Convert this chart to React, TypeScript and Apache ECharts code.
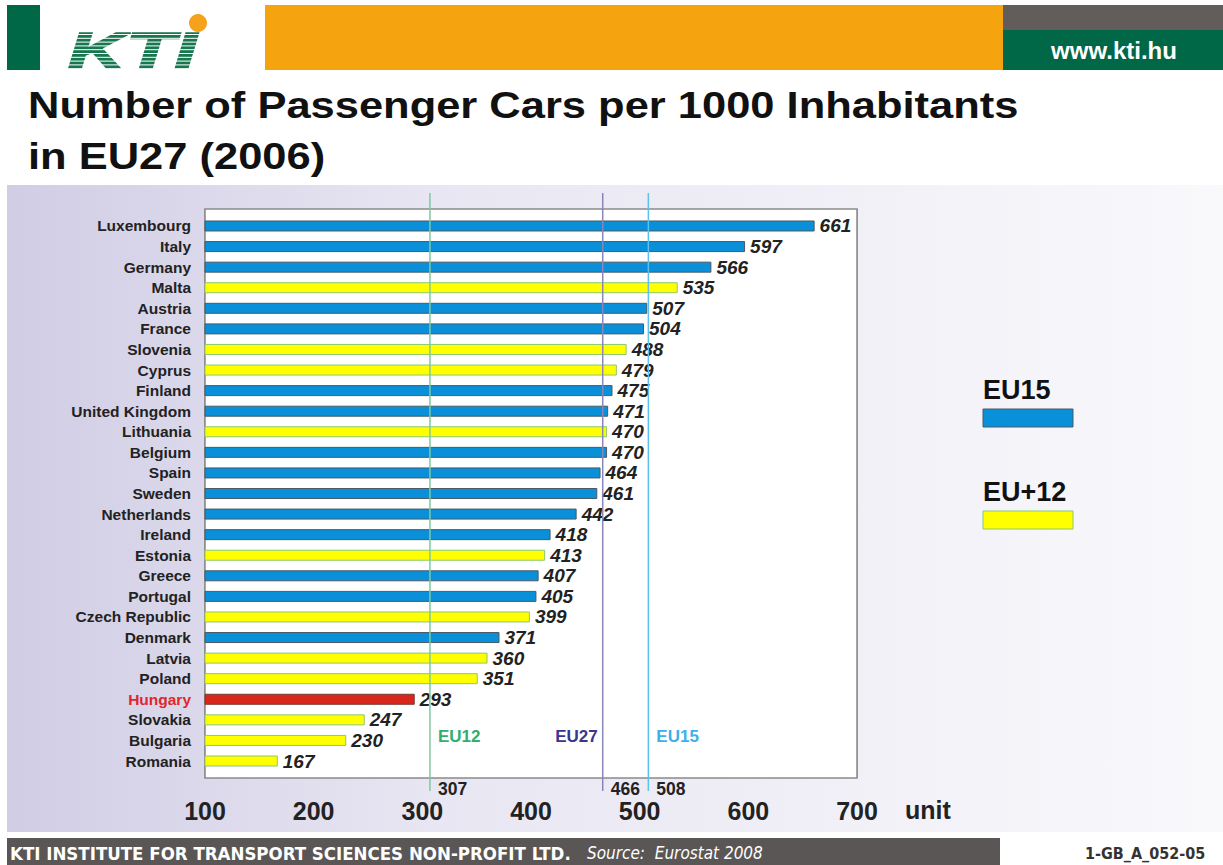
import React, { useEffect, useRef } from "react";
import * as echarts from "echarts";

const categories = [
  "Luxembourg", "Italy", "Germany", "Malta", "Austria", "France", "Slovenia", "Cyprus", "Finland",
  "United Kingdom", "Lithuania", "Belgium", "Spain", "Sweden", "Netherlands", "Ireland", "Estonia",
  "Greece", "Portugal", "Czech Republic", "Denmark", "Latvia", "Poland", "Hungary", "Slovakia",
  "Bulgaria", "Romania",
];
const values = [
  661, 597, 566, 535, 507, 504, 488, 479, 475, 471, 470, 470, 464, 461, 442, 418, 413, 407, 405, 399,
  371, 360, 351, 293, 247, 230, 167,
];
const groups = [
  "EU15", "EU15", "EU15", "EU+12", "EU15", "EU15", "EU+12", "EU+12", "EU15", "EU15", "EU+12", "EU15",
  "EU15", "EU15", "EU15", "EU15", "EU+12", "EU15", "EU15", "EU+12", "EU15", "EU+12", "EU+12", "HU",
  "EU+12", "EU+12", "EU+12",
];
const refNames = ["EU12", "EU27", "EU15"];
const refValues = [307, 466, 508];
const refColors = ["#2fae6e", "#3a3590", "#3cb0ea"];
const refLineColors = ["#7ccaa0", "#8a86b8", "#5cc0f0"];
const xMin = 100;
const xMax = 700;
const xStep = 100;
const legendNames = ["EU15", "EU+12"];

const FONT = "'Liberation Sans', Arial, Helvetica, sans-serif";
const COND = "'DejaVu Sans Condensed', 'DejaVu Sans', sans-serif";

const groupStyle: Record<string, any> = {
  EU15: { color: "#0a8fd9", borderColor: "#4a5a66", borderWidth: 1 },
  "EU+12": { color: "#ffff00", borderColor: "#8cc870", borderWidth: 1 },
  HU: { color: "#d9261c", borderColor: "#7a3a30", borderWidth: 1 },
};

export default function App() {
  const ref = useRef<HTMLDivElement>(null);
  useEffect(() => {
    if (!ref.current) return;
    const chart = echarts.init(ref.current, null, { renderer: "svg" });

    const plotLeft = 205;
    const plotRight = 857;
    const frameTop = 209;
    const frameBottom = 778;
    const barTop = 215.7;
    const barBottom = 771.3;

    const option: any = {
      animation: false,
      backgroundColor: "#ffffff",
      grid: [
        {
          left: plotLeft, right: 1223 - plotRight, top: frameTop, bottom: 865 - frameBottom,
          show: true, backgroundColor: "#ffffff", borderColor: "#8a8a8a", borderWidth: 1.5, z: 1,
        },
        {
          left: plotLeft, right: 1223 - plotRight, top: barTop, bottom: 865 - barBottom,
          show: false, z: 2,
        },
      ],
      xAxis: [
        {
          gridIndex: 0, type: "value", min: xMin, max: xMax, interval: xStep,
          axisLine: { show: false }, axisTick: { show: false },
          splitLine: { show: true, lineStyle: { color: "#8a8a8a", width: 1.5 } },
          axisLabel: {
            margin: 20, fontSize: 25, fontWeight: "bold", color: "#222", fontFamily: FONT,
          },
        },
        {
          gridIndex: 1, type: "value", min: xMin, max: xMax, interval: xStep, show: false,
          splitLine: { show: false },
        },
      ],
      yAxis: [
        { gridIndex: 0, type: "value", show: false, splitLine: { show: false } },
        {
          gridIndex: 1, type: "category", data: categories, inverse: true,
          axisLine: { show: false }, axisTick: { show: false },
          axisLabel: {
            interval: 0, margin: 14, fontSize: 15.5, fontWeight: "bold", fontFamily: FONT,
            color: (v: string) => (v === "Hungary" ? "#e0262b" : "#222"),
          },
        },
      ],
      series: [
        {
          type: "bar", xAxisIndex: 1, yAxisIndex: 1, barWidth: 11, z: 3,
          data: values.map((v, i) => ({ value: v, itemStyle: groupStyle[groups[i]] })),
          label: {
            show: true, position: "right", distance: 5, formatter: "{c}",
            fontSize: 19, fontWeight: "bold", fontStyle: "italic", color: "#222", fontFamily: FONT,
          },
        },
      ],
    };
    chart.setOption(option);

    const graphics: any[] = [];
    // chart panel background
    graphics.push({
      type: "rect", z: -10, silent: true,
      shape: { x: 7, y: 185, width: 1216, height: 647 },
      style: {
        fill: new echarts.graphic.LinearGradient(0, 0, 1, 0, [
          { offset: 0, color: "#d0cde5" },
          { offset: 0.35, color: "#e8e6f2" },
          { offset: 1, color: "#f9f9fc" },
        ]),
      },
    });
    // header
    graphics.push({ type: "rect", shape: { x: 7, y: 5, width: 33, height: 65 }, style: { fill: "#006747" } });
    graphics.push({ type: "rect", shape: { x: 265, y: 5, width: 738, height: 65 }, style: { fill: "#f5a30f" } });
    graphics.push({ type: "rect", shape: { x: 1003, y: 5, width: 220, height: 25 }, style: { fill: "#625c5b" } });
    graphics.push({ type: "rect", shape: { x: 1003, y: 30, width: 220, height: 40 }, style: { fill: "#006747" } });
    graphics.push({
      type: "text", x: 1114, y: 50,
      style: {
        text: "www.kti.hu", fill: "#ffffff", font: `bold 24px ${FONT}`, align: "center", verticalAlign: "middle",
      },
    });
    // logo
    graphics.push({
      type: "text", x: 68, y: 51, scaleX: 1.6,
      style: {
        text: "KTI", fill: "#17774f", font: `italic 900 50px ${FONT}`, align: "left", verticalAlign: "middle",
        stroke: "#17774f", lineWidth: 1.5,
      },
    });
    for (let k = 0; k < 10; k++) {
      graphics.push({
        type: "line", z: 5,
        shape: { x1: 60, y1: 34.5 + k * 3.8, x2: 212, y2: 34.5 + k * 3.8 },
        style: { stroke: "#ffffff", lineWidth: 1 },
      });
    }
    graphics.push({ type: "circle", shape: { cx: 198, cy: 23, r: 9 }, style: { fill: "#f6a21c" } });
    // title
    graphics.push({
      type: "text", x: 28, y: 105, scaleX: 1.175,
      style: {
        text: "Number of Passenger Cars per 1000 Inhabitants", fill: "#111",
        font: `bold 37px ${FONT}`, verticalAlign: "middle",
      },
    });
    graphics.push({
      type: "text", x: 28, y: 156, scaleX: 1.175,
      style: { text: "in EU27 (2006)", fill: "#111", font: `bold 37px ${FONT}`, verticalAlign: "middle" },
    });
    // "unit"
    graphics.push({
      type: "text", x: 905, y: 810,
      style: { text: "unit", fill: "#222", font: `bold 25px ${FONT}`, verticalAlign: "middle" },
    });
    // reference lines
    refValues.forEach((v, i) => {
      const x = chart.convertToPixel({ xAxisIndex: 0 }, v) as number;
      graphics.push({
        type: "line", z: 50,
        shape: { x1: x, y1: 193, x2: x, y2: 791 },
        style: { stroke: refLineColors[i], lineWidth: 1.5 },
      });
      const isLeft = i === 1;
      graphics.push({
        type: "text", z: 50, x: isLeft ? x - 5 : x + 8, y: 736,
        style: {
          text: refNames[i], fill: refColors[i], font: `bold 17px ${FONT}`,
          align: isLeft ? "right" : "left", verticalAlign: "middle",
        },
      });
      graphics.push({
        type: "text", z: 50, x: x + 8, y: 789,
        style: { text: String(v), fill: "#222", font: `bold 17.5px ${FONT}`, verticalAlign: "middle" },
      });
    });
    // legend
    legendNames.forEach((name, i) => {
      const y0 = 390 + i * 102;
      const st = groupStyle[name];
      graphics.push({
        type: "text", x: 983, y: y0,
        style: { text: name, fill: "#111", font: `bold 27px ${FONT}`, verticalAlign: "middle" },
      });
      graphics.push({
        type: "rect", shape: { x: 983, y: y0 + 19, width: 90, height: 18 },
        style: { fill: st.color, stroke: st.borderColor, lineWidth: 1 },
      });
    });
    // footer
    graphics.push({ type: "rect", shape: { x: 7, y: 838, width: 993, height: 27 }, style: { fill: "#5a5655" } });
    graphics.push({
      type: "text", x: 10, y: 853,
      style: {
        text: "KTI INSTITUTE FOR TRANSPORT SCIENCES NON-PROFIT LTD.", fill: "#ffffff",
        font: `bold 18.5px ${COND}`, verticalAlign: "middle",
      },
    });
    graphics.push({
      type: "text", x: 587, y: 853,
      style: { text: "Source:  Eurostat 2008", fill: "#ffffff", font: `italic 17px ${COND}`, verticalAlign: "middle" },
    });
    graphics.push({
      type: "text", x: 1085, y: 853,
      style: { text: "1-GB_A_052-05", fill: "#333", font: `bold 16px ${COND}`, verticalAlign: "middle" },
    });

    chart.setOption({ graphic: graphics });
    return () => chart.dispose();
  }, []);
  return (
    <div
      ref={ref}
      style={{ position: "fixed", left: 0, top: 0, width: 1223, height: 865 }}
    />
  );
}
